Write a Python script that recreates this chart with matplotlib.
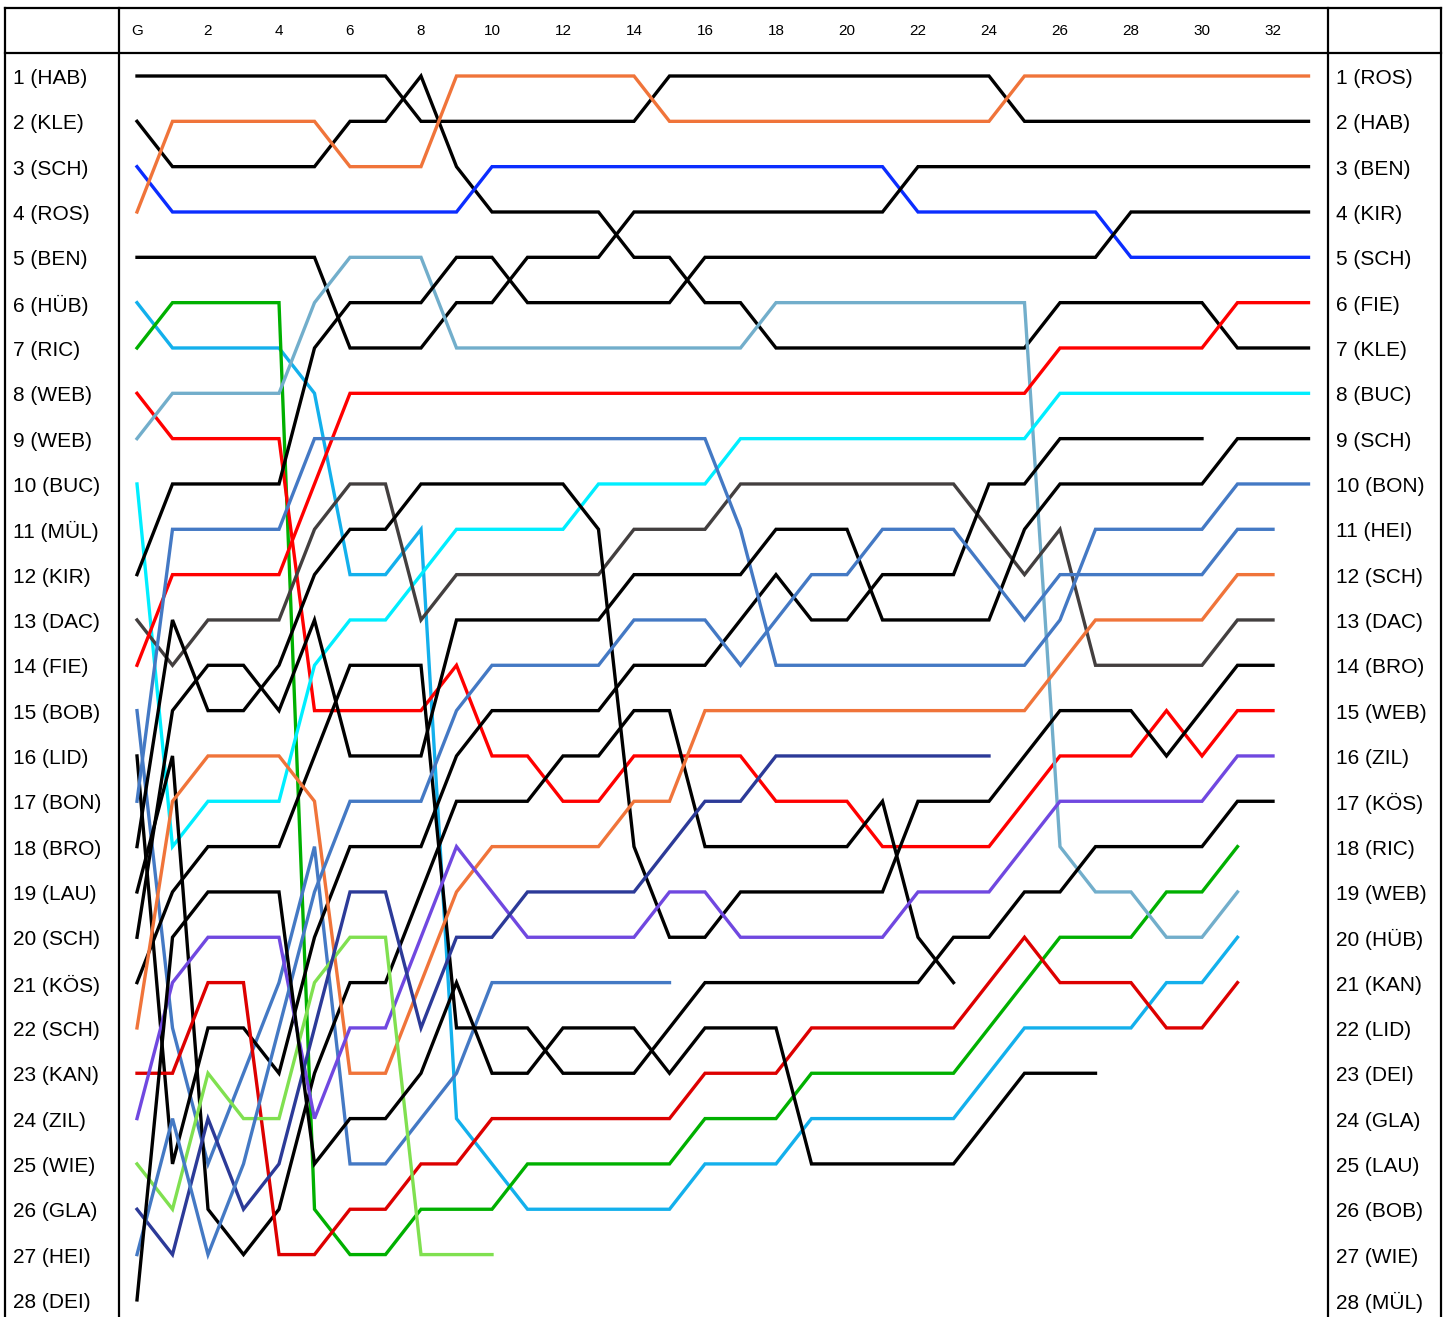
import matplotlib
matplotlib.use('Agg')
import matplotlib.pyplot as plt
from matplotlib.lines import Line2D
from matplotlib import transforms


grid_labels = ['HAB', 'KLE', 'SCH', 'ROS', 'BEN', 'HÜB', 'RIC', 'WEB', 'WEB', 'BUC',
               'MÜL', 'KIR', 'DAC', 'FIE', 'BOB', 'LID', 'BON', 'BRO', 'LAU', 'SCH',
               'KÖS', 'SCH', 'KAN', 'ZIL', 'WIE', 'GLA', 'HEI', 'DEI']
final_labels = ['ROS', 'HAB', 'BEN', 'KIR', 'SCH', 'FIE', 'KLE', 'BUC', 'SCH', 'BON',
                'HEI', 'SCH', 'DAC', 'BRO', 'WEB', 'ZIL', 'KÖS', 'RIC', 'WEB', 'HÜB',
                'KAN', 'LID', 'DEI', 'GLA', 'LAU', 'BOB', 'WIE', 'MÜL']

lap_ticks = [0, 2, 4, 6, 8, 10, 12, 14, 16, 18, 20, 22, 24, 26, 28, 30, 32]
lap_tick_labels = ['G', '2', '4', '6', '8', '10', '12', '14', '16', '18', '20', '22',
                   '24', '26', '28', '30', '32']

# position per lap, index 0 = grid
hab = [1, 1, 1, 1, 1, 1, 1, 1, 2, 2, 2, 2, 2, 2, 2, 1, 1, 1, 1, 1, 1, 1, 1, 1, 1,
       2, 2, 2, 2, 2, 2, 2, 2, 2]
kle = [2, 3, 3, 3, 3, 3, 2, 2, 1, 3, 4, 4, 4, 4, 5, 5, 6, 6, 7, 7, 7, 7, 7, 7, 7, 7,
       6, 6, 6, 6, 6, 7, 7, 7]
sch3 = [3, 4, 4, 4, 4, 4, 4, 4, 4, 4, 3, 3, 3, 3, 3, 3, 3, 3, 3, 3, 3, 3, 4, 4, 4, 4,
        4, 4, 5, 5, 5, 5, 5, 5]
ros = [4, 2, 2, 2, 2, 2, 3, 3, 3, 1, 1, 1, 1, 1, 1, 2, 2, 2, 2, 2, 2, 2, 2, 2, 2,
       1, 1, 1, 1, 1, 1, 1, 1, 1]
ben = [5, 5, 5, 5, 5, 5, 7, 7, 7, 6, 6, 5, 5, 5, 4, 4, 4, 4, 4, 4, 4, 4, 3, 3, 3, 3,
       3, 3, 3, 3, 3, 3, 3, 3]
hub = [6, 7, 7, 7, 7, 8, 12, 12, 11, 24, 25, 26, 26, 26, 26, 26, 25, 25, 25, 24, 24,
       24, 24, 24, 23, 22, 22, 22, 22, 21, 21, 20]
ric = [7, 6, 6, 6, 6, 26, 27, 27, 26, 26, 26, 25, 25, 25, 25, 25, 24, 24, 24, 23, 23,
       23, 23, 23, 22, 21, 20, 20, 20, 19, 19, 18]
web8 = [8, 9, 9, 9, 9, 15, 15, 15, 15, 14, 16, 16, 17, 17, 16, 16, 16, 16, 17, 17, 17,
        18, 18, 18, 18, 17, 16, 16, 16, 15, 16, 15, 15]
web9 = [9, 8, 8, 8, 8, 6, 5, 5, 5, 7, 7, 7, 7, 7, 7, 7, 7, 7, 6, 6, 6, 6, 6, 6, 6, 6,
        18, 19, 19, 20, 20, 19]
buc = [10, 18, 17, 17, 17, 14, 13, 13, 12, 11, 11, 11, 11, 10, 10, 10, 10, 9, 9, 9, 9,
       9, 9, 9, 9, 9, 8, 8, 8, 8, 8, 8, 8, 8]
kir = [12, 10, 10, 10, 10, 7, 6, 6, 6, 5, 5, 6, 6, 6, 6, 6, 5, 5, 5, 5, 5, 5, 5, 5, 5,
       5, 5, 5, 4, 4, 4, 4, 4, 4]
dac = [13, 14, 13, 13, 13, 11, 10, 10, 13, 12, 12, 12, 12, 12, 11, 11, 11, 10, 10, 10,
       10, 10, 10, 10, 11, 12, 11, 14, 14, 14, 14, 13, 13]
fie = [14, 12, 12, 12, 12, 10, 8, 8, 8, 8, 8, 8, 8, 8, 8, 8, 8, 8, 8, 8, 8, 8, 8, 8, 8,
       8, 7, 7, 7, 7, 7, 6, 6, 6]
bob = [15, 22, 25, 23, 21, 18, 25, 25, 24, 23, 21, 21, 21, 21, 21, 21]
lid = [16, 25, 22, 22, 23, 20, 18, 18, 18, 16, 15, 15, 15, 15, 14, 14, 14, 13, 12, 13,
       13, 12, 12, 12, 10, 10, 9, 9, 9, 9, 9]
bon = [17, 11, 11, 11, 11, 9, 9, 9, 9, 9, 9, 9, 9, 9, 9, 9, 9, 11, 14, 14, 14, 14, 14,
       14, 14, 14, 13, 11, 11, 11, 11, 10, 10, 10]
bro = [18, 13, 15, 15, 14, 12, 11, 11, 10, 10, 10, 10, 10, 11, 18, 20, 20, 19, 19, 19,
       19, 19, 17, 17, 17, 16, 15, 15, 15, 16, 15, 14, 14]
lau = [19, 16, 26, 27, 26, 23, 21, 21, 19, 17, 17, 17, 16, 16, 15, 15, 18, 18, 18, 18,
       18, 17, 20, 21]
sch20 = [20, 15, 14, 14, 15, 13, 16, 16, 16, 13, 13, 13, 13, 13, 12, 12, 12, 12, 11, 11,
         11, 13, 13, 13, 13, 11, 10, 10, 10, 10, 10, 9, 9, 9]
kos = [21, 19, 18, 18, 18, 16, 14, 14, 14, 22, 22, 22, 23, 23, 23, 22, 21, 21, 21, 21,
       21, 21, 21, 20, 20, 19, 19, 18, 18, 18, 18, 17, 17]
sch22 = [22, 17, 16, 16, 16, 17, 23, 23, 21, 19, 18, 18, 18, 18, 17, 17, 15, 15, 15, 15,
         15, 15, 15, 15, 15, 15, 14, 13, 13, 13, 13, 12, 12]
kan = [23, 23, 21, 21, 27, 27, 26, 26, 25, 25, 24, 24, 24, 24, 24, 24, 23, 23, 23, 22,
       22, 22, 22, 22, 21, 20, 21, 21, 21, 22, 22, 21]
zil = [24, 21, 20, 20, 20, 24, 22, 22, 20, 18, 19, 20, 20, 20, 20, 19, 19, 20, 20, 20,
       20, 20, 19, 19, 19, 18, 17, 17, 17, 17, 17, 16, 16]
wie = [25, 26, 23, 24, 24, 21, 20, 20, 27, 27, 27]
gla = [26, 27, 24, 26, 25, 22, 19, 19, 22, 20, 20, 19, 19, 19, 19, 18, 17, 17, 16, 16,
       16, 16, 16, 16, 16]
hei = [27, 24, 27, 25, 22, 19, 17, 17, 17, 15, 14, 14, 14, 14, 13, 13, 13, 14, 13, 12,
       12, 11, 11, 11, 12, 13, 12, 12, 12, 12, 12, 11, 11]
dei = [28, 20, 19, 19, 19, 25, 24, 24, 23, 21, 23, 23, 22, 22, 22, 23, 22, 22, 22, 25,
       25, 25, 25, 25, 24, 23, 23, 23]

BLACK = '#000000'
drivers = [
    (hab, BLACK), (kle, BLACK), (sch3, '#0b2dff'), (ros, '#f0743a'), (ben, BLACK),
    (hub, '#13b0ec'), (ric, '#00b000'), (web8, '#ff0000'), (web9, '#72aecb'),
    (buc, '#00eeff'), (kir, BLACK), (dac, '#433f3f'), (fie, '#ff0000'),
    (bob, '#4479c4'), (lid, BLACK), (bon, '#4479c4'), (bro, BLACK), (lau, BLACK),
    (sch20, BLACK), (kos, BLACK), (sch22, '#f0743a'), (kan, '#dd0000'),
    (zil, '#7048e0'), (wie, '#80e050'), (gla, '#2c3a98'), (hei, '#4479c4'),
    (dei, BLACK),
]


def main():
    plt.rcParams['font.family'] = ['Liberation Sans', 'DejaVu Sans']

    W, H = 1452, 1317
    fig = plt.figure(figsize=(W / 100, H / 100), dpi=100)

    # plot area between the two inner vertical rules
    x0, x1, ytop = 119, 1328, 53
    ax = fig.add_axes([x0 / W, 0, (x1 - x0) / W, 1 - ytop / H])
    ax.set_xlim((x0 - 137) / 35.5, (x1 - 137) / 35.5)
    ax.set_ylim(1 + (H - 76) / 45.33, 1 + (ytop - 76) / 45.33)
    ax.axis('off')

    for pos, col in drivers:
        ax.plot(range(len(pos)), pos, color=col, lw=2.4, solid_joinstyle='miter')

    # frame
    def hline(y, xa, xb):
        fig.add_artist(Line2D([xa / W, xb / W], [1 - y / H, 1 - y / H], color='k', lw=1.6))

    def vline(x, ya, yb):
        fig.add_artist(Line2D([x / W, x / W], [1 - ya / H, 1 - yb / H], color='k', lw=1.6))

    hline(8, 5, 1441)
    hline(53, 5, 1441)
    for x in [5, 119, 1328, 1441]:
        vline(x, 8, H)

    tr_top = transforms.blended_transform_factory(ax.transData, fig.transFigure)
    for t, lab in zip(lap_ticks, lap_tick_labels):
        ax.text(t, 1 - 31 / H, lab, transform=tr_top, ha='center', va='center',
                fontsize=11, clip_on=False)

    tr_row = transforms.blended_transform_factory(fig.transFigure, ax.transData)
    tr_row = transforms.offset_copy(tr_row, fig=fig, y=-2.5, units='dots')
    for i, lab in enumerate(grid_labels):
        ax.text(13 / W, i + 1, '{} ({})'.format(i + 1, lab), transform=tr_row,
                ha='left', va='center', fontsize=15, clip_on=False)
    for i, lab in enumerate(final_labels):
        ax.text(1336 / W, i + 1, '{} ({})'.format(i + 1, lab), transform=tr_row,
                ha='left', va='center', fontsize=15, clip_on=False)

    fig.savefig('out.png', dpi=100)

    return


if __name__ == '__main__':
    main()
